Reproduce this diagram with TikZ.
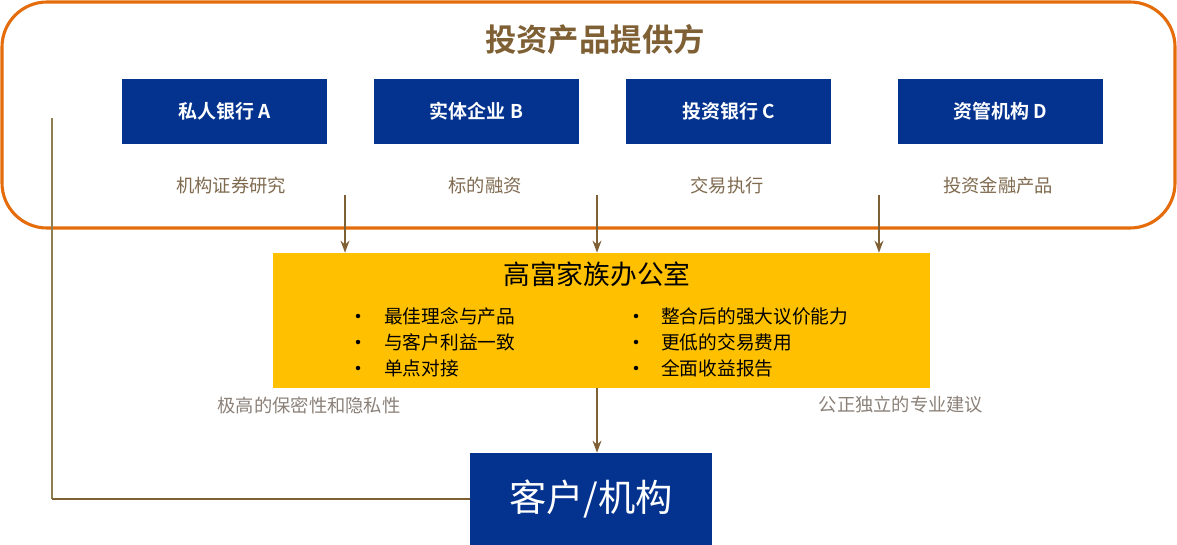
\documentclass[tikz,border=0pt]{standalone}
\usepackage{fontspec}
\setmainfont{Noto Sans CJK SC}
\newfontfamily\cjkbold{Noto Sans CJK SC Bold}
\usetikzlibrary{arrows.meta}
\definecolor{provorange}{HTML}{E46C0A}
\definecolor{provbrown}{HTML}{7F6035}
\definecolor{subbrown}{HTML}{7F6A4F}
\definecolor{notegray}{HTML}{8A8078}
\definecolor{boxblue}{HTML}{03338E}
\definecolor{officeyellow}{HTML}{FFC000}
\definecolor{linkolive}{HTML}{8F7F50}
\def\pxu{0.025cm}

\begin{document}
\begin{tikzpicture}[x=0.025cm,y=-0.025cm,
	provider/.style={fill=boxblue,text=white,font=\cjkbold\fontsize{13.5}{16}\selectfont,minimum width=205*\pxu,minimum height=65*\pxu,inner sep=0},
	sublabel/.style={text=subbrown,font=\fontsize{13}{16}\selectfont},
	note/.style={text=notegray,font=\fontsize{13}{16}\selectfont},
	point/.style={font=\fontsize{13.3}{16}\selectfont,anchor=west,inner sep=0},
	dot/.style={circle,fill=black,inner sep=0,minimum size=4.5*\pxu},
	flow/.style={provbrown,line width=2pt,-{Stealth[length=3mm,width=2.2mm]}}]
	\useasboundingbox (0,0) rectangle (1177,545);
	
	%PROVIDER FRAME
	\draw[provorange,line width=2.2pt,rounded corners=45*\pxu] (2,2) rectangle (1175,228);
	\node[text=provbrown,font=\cjkbold\fontsize{22.3}{26}\selectfont] (title) at (595,40) {投资产品提供方};
	
	%PROVIDERS
	\node[provider] (bankA) at (224.5,111.5) {私人银行 A};
	\node[provider] (firmB) at (476.5,111.5) {实体企业 B};
	\node[provider] (bankC) at (728.5,111.5) {投资银行 C};
	\node[provider] (assetD) at (1000.5,111.5) {资管机构 D};
	\node[sublabel] (subA) at (231,186) {机构证券研究};
	\node[sublabel] (subB) at (485,186) {标的融资};
	\node[sublabel] (subC) at (727,186) {交易执行};
	\node[sublabel] (subD) at (998,186) {投资金融产品};
	
	%FAMILY OFFICE
	\node[fill=officeyellow,minimum width=657*\pxu,minimum height=135*\pxu,inner sep=0] (office) at (601.5,320.5) {};
	\node[font=\fontsize{19}{22}\selectfont] (officetitle) at (597,274) {高富家族办公室};
	\foreach \y/\txt [count=\i] in {316/最佳理念与产品,342/与客户利益一致,368/单点对接}{
		\node[dot] (dotL\i) at (358,\y) {};
		\node[point] (ptL\i) at (384,\y) {\txt};
	}
	\foreach \y/\txt [count=\i] in {316/整合后的强大议价能力,342/更低的交易费用,368/全面收益报告}{
		\node[dot] (dotR\i) at (636,\y) {};
		\node[point] (ptR\i) at (661,\y) {\txt};
	}
	\node[note] (noteL) at (309,405) {极高的保密性和隐私性};
	\node[note] (noteR) at (901,405) {公正独立的专业建议};
	
	%CLIENT
	\node[fill=boxblue,text=white,font=\fontsize{26.5}{30}\selectfont,minimum width=242*\pxu,minimum height=92*\pxu,inner sep=0] (client) at (591,499) {客户/机构};
	
	%ARROWS
	\coordinate (srcA) at (345,195);
	\coordinate (srcB) at (597,195);
	\coordinate (srcD) at (879,195);
	\draw[flow] (srcA) -- (srcA |- office.north);
	\draw[flow] (srcB) -- (srcB |- office.north);
	\draw[flow] (srcD) -- (srcD |- office.north);
	\draw[flow] (office.south -| client.north) ++(6,0) coordinate (offout) -- (offout |- client.north);
	
	%DIRECT LINK
	\coordinate (linktop) at (52,118);
	\draw[linkolive,line width=1.8pt] (linktop) -- (linktop |- client.west);
	\draw[provbrown,line width=1.8pt] (linktop |- client.west) -- (client.west);
\end{tikzpicture}
\end{document}
